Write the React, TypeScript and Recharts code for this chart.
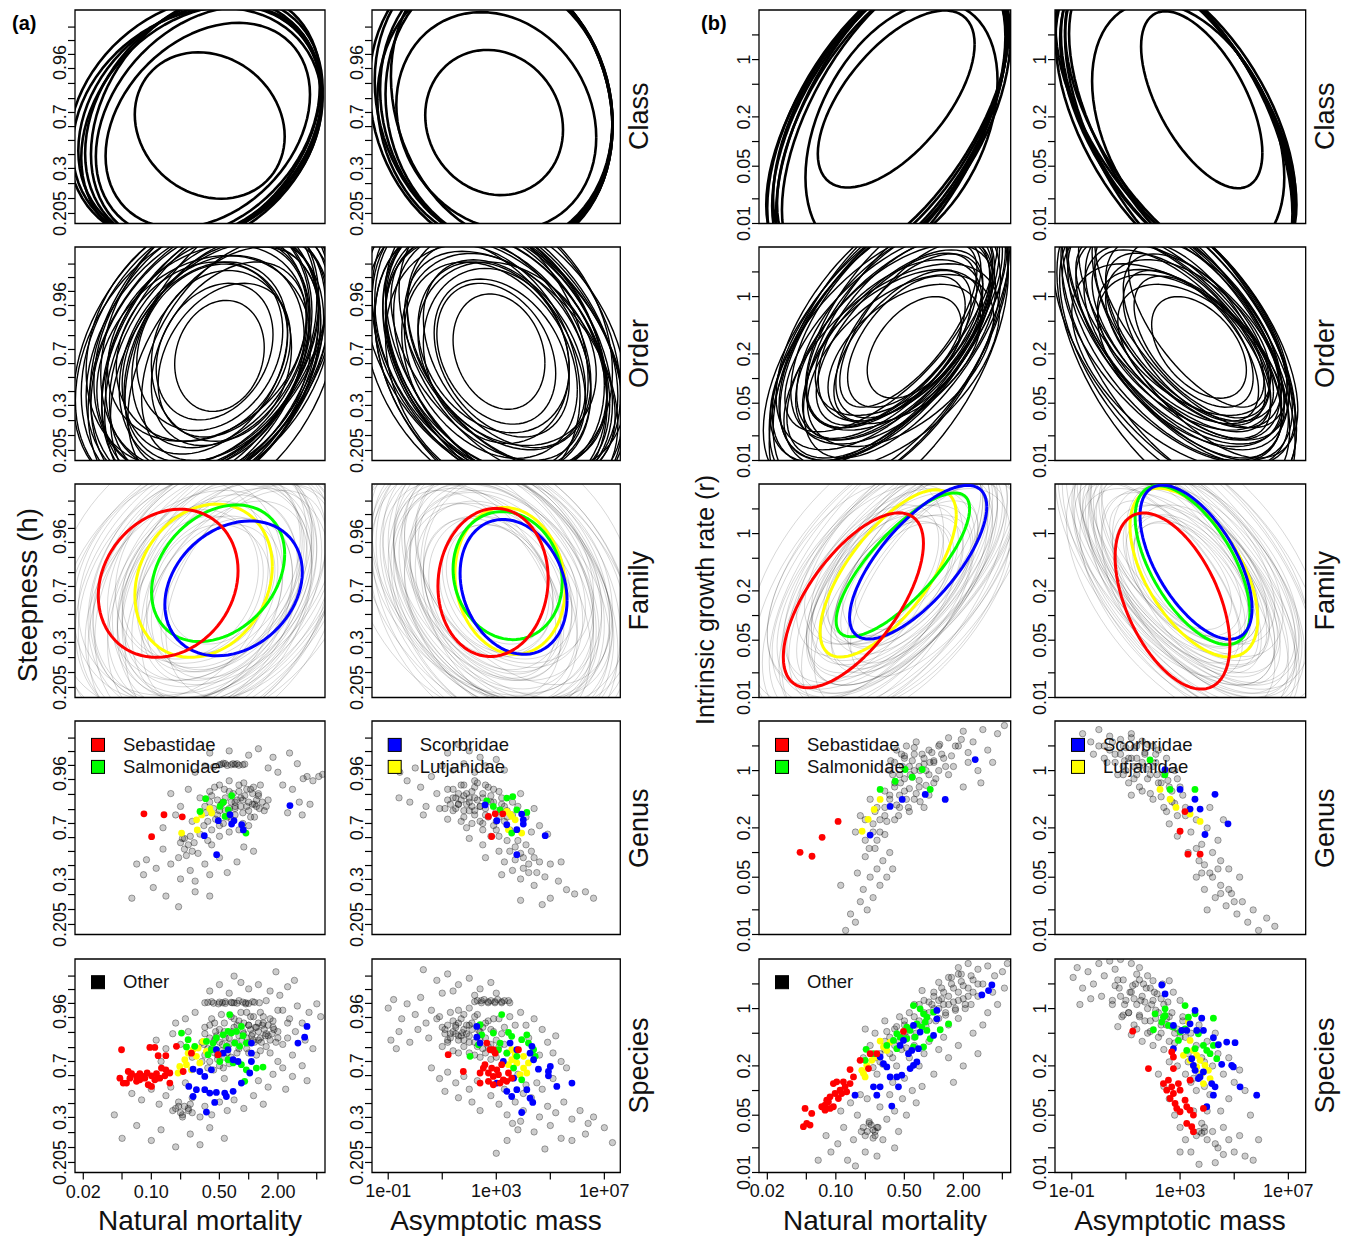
import React from "react";
import { ComposedChart, Line, Scatter, XAxis, YAxis, ReferenceArea } from "recharts";

// Ellipse = [centre x, centre y, x half-extent, y half-extent, correlation], axis units.
type Ell = [number, number, number, number, number];
type Pt = [number, number];

const FONT = "'Liberation Sans', Arial, Helvetica, sans-serif";

// ---------- axis ticks ----------
const M_TICKS = [0.02, 0.05, 0.1, 0.2, 0.5, 1, 2, 5];
const M_LABELS: Record<string, string> = { "0.02": "0.02", "0.1": "0.10", "0.5": "0.50", "2": "2.00" };
const W_TICKS = [0.1, 10, 1000, 100000, 10000000];
const W_LABELS: Record<string, string> = { "0.1": "1e-01", "1000": "1e+03", "10000000": "1e+07" };
const R_TICKS = [0.01, 0.02, 0.05, 0.1, 0.2, 0.5, 1, 2];
const R_LABELS: Record<string, string> = { "0.01": "0.01", "0.05": "0.05", "0.2": "0.2", "1": "1" };
// steepness is drawn on a transformed 0-10 axis
const H_TICK_POS = [0.47, 1.17, 1.87, 2.58, 3.23, 3.89, 4.54, 5.2, 5.85, 6.56, 7.26, 7.92, 8.57, 9.2];
const H_LABELS: [number, string][] = [[0.47, "0.205"], [2.58, "0.3"], [5.0, "0.7"], [7.54, "0.96"]];

const ROW_NAMES = ["Class", "Order", "Family", "Genus", "Species"];
const FAMILIES = ["Lutjanidae", "Salmonidae", "Scorbridae", "Sebastidae"];
const FAMILY_COLORS: Record<string, string> = {
  Sebastidae: "#ff0000",
  Salmonidae: "#00ff00",
  Scorbridae: "#0000ff",
  Lutjanidae: "#ffff00",
};

// ---------- Class ellipses ----------
const classMh: Ell[] = [
  [-0.5, 4.7, 1.25, 5.6, 0.23], [-0.46, 4.8, 1.22, 5.8, 0.26], [-0.53, 4.6, 1.28, 5.5, 0.2],
  [-0.44, 4.9, 1.18, 5.9, 0.28], [-0.48, 4.5, 1.24, 5.7, 0.25], [-0.42, 4.75, 1.15, 5.4, 0.3],
  [-0.55, 4.85, 1.3, 5.75, 0.22], [-0.42, 4.6, 1.05, 4.8, 0.3], [-0.4, 4.59, 0.77, 3.43, -0.15],
];
const classWh: Ell[] = [
  [3.0, 5.5, 4.3, 6.6, -0.12], [2.9, 5.6, 4.4, 6.8, -0.16], [3.1, 5.4, 4.2, 6.5, -0.1],
  [2.8, 5.5, 4.5, 6.9, -0.14], [3.2, 5.7, 4.1, 6.6, -0.18], [3.0, 4.8, 3.7, 5.1, -0.15],
  [2.95, 5.3, 4.35, 6.4, -0.08], [2.92, 4.73, 2.55, 3.4, -0.1],
];
const classMr: Ell[] = [
  [-0.45, -0.74, 1.2, 1.9, 0.55], [-0.42, -0.7, 1.18, 1.85, 0.57], [-0.48, -0.78, 1.22, 1.95, 0.53],
  [-0.4, -0.76, 1.15, 1.92, 0.56], [-0.47, -0.68, 1.24, 1.88, 0.58], [-0.44, -0.8, 1.17, 2.0, 0.54],
  [-0.43, -0.72, 1.21, 1.87, 0.52], [-0.33, -0.85, 0.98, 1.55, 0.38], [-0.384, -0.481, 0.8, 1.08, 0.62],
];
const classWr: Ell[] = [
  [2.9, -0.74, 4.3, 1.9, -0.55], [3.0, -0.7, 4.25, 1.85, -0.57], [2.8, -0.78, 4.4, 1.95, -0.53],
  [3.05, -0.76, 4.15, 1.92, -0.56], [2.85, -0.68, 4.45, 1.88, -0.58], [2.95, -0.8, 4.2, 2.0, -0.54],
  [2.92, -0.72, 4.35, 1.87, -0.52], [3.3, -0.85, 3.55, 1.55, -0.38], [3.8, -0.49, 2.24, 1.08, -0.6],
];

// ---------- Order ellipses ----------
const orderMh: Ell[] = [
  [-0.3, 4.9, 0.46, 2.6, 0.15], [-0.35, 5.1, 0.6, 3.2, 0.25], [-0.25, 4.7, 0.68, 3.6, 0.3],
  [-0.4, 5.3, 0.75, 3.9, 0.2], [-0.2, 5.0, 0.8, 4.3, 0.35], [-0.45, 4.8, 0.85, 4.5, 0.28],
  [-0.3, 5.4, 0.9, 4.8, 0.32], [-0.38, 4.6, 0.95, 5.0, 0.25], [-0.28, 5.2, 1.0, 5.3, 0.38],
  [-0.42, 5.0, 1.05, 5.5, 0.3], [-0.33, 4.7, 1.1, 5.8, 0.34], [-0.47, 5.3, 1.12, 6.0, 0.28],
  [-0.36, 5.0, 1.15, 6.2, 0.36], [-0.44, 4.6, 1.18, 6.4, 0.31], [-0.31, 5.1, 1.2, 6.5, 0.4],
  [-0.5, 4.9, 1.22, 6.6, 0.27], [-0.39, 5.4, 1.24, 6.8, 0.33], [-0.46, 4.4, 1.1, 5.2, 0.22],
  [-0.26, 4.4, 0.98, 5.6, 0.42], [-0.52, 5.6, 1.15, 5.9, 0.24], [-0.22, 5.6, 1.05, 6.1, 0.45],
  [-0.58, 4.7, 1.2, 6.3, 0.3], [-0.34, 4.2, 1.08, 6.0, 0.37], [-0.4, 5.8, 1.12, 6.2, 0.29],
  [-0.28, 4.9, 0.72, 4.0, 0.1], [-0.48, 5.1, 0.88, 4.2, 0.18], [-0.15, 5.2, 0.95, 5.2, 0.44],
  [-0.55, 5.2, 1.25, 6.7, 0.35], [-0.37, 4.5, 1.28, 6.9, 0.32], [-0.43, 5.5, 1.02, 4.6, 0.26],
  [-0.32, 4.8, 1.16, 6.6, 0.39], [-0.41, 4.9, 1.26, 6.3, 0.3],
];
const orderWh: Ell[] = [
  [3.1, 5.1, 1.7, 2.7, -0.2], [3.0, 5.0, 2.2, 3.3, -0.28], [3.2, 4.8, 2.5, 3.7, -0.32],
  [2.9, 5.3, 2.8, 4.0, -0.25], [3.3, 5.0, 3.0, 4.4, -0.38], [2.8, 4.7, 3.2, 4.6, -0.3],
  [3.1, 5.4, 3.4, 4.9, -0.35], [3.0, 4.6, 3.5, 5.1, -0.27], [3.4, 5.2, 3.7, 5.4, -0.4],
  [2.7, 5.0, 3.8, 5.6, -0.33], [3.2, 4.8, 4.0, 5.9, -0.36], [2.9, 5.3, 4.1, 6.1, -0.29],
  [3.1, 5.0, 4.2, 6.3, -0.37], [2.8, 4.6, 4.3, 6.5, -0.31], [3.3, 5.1, 4.4, 6.6, -0.42],
  [2.6, 4.9, 4.5, 6.7, -0.28], [3.0, 5.5, 4.6, 6.9, -0.34], [3.5, 4.5, 3.9, 5.3, -0.45],
  [2.5, 4.4, 3.6, 5.7, -0.24], [3.6, 5.6, 4.2, 6.0, -0.39], [2.4, 5.6, 4.0, 6.2, -0.3],
  [3.2, 4.3, 4.3, 6.1, -0.43], [2.9, 5.8, 4.4, 6.4, -0.26], [3.0, 4.9, 2.7, 4.1, -0.15],
  [3.4, 5.0, 3.3, 4.3, -0.22], [2.7, 5.2, 3.6, 5.2, -0.46], [3.1, 4.4, 4.6, 6.8, -0.33],
  [2.8, 5.4, 4.7, 6.6, -0.36], [3.3, 4.7, 4.5, 6.5, -0.4], [3.0, 5.2, 4.1, 5.8, -0.32],
];
const orderMr: Ell[] = [
  [-0.2, -0.62, 0.48, 0.62, 0.45], [-0.28, -0.55, 0.6, 0.8, 0.55], [-0.32, -0.6, 0.7, 0.92, 0.6],
  [-0.25, -0.48, 0.75, 1.0, 0.58], [-0.38, -0.52, 0.82, 1.05, 0.62], [-0.3, -0.4, 0.88, 1.12, 0.55],
  [-0.42, -0.58, 0.92, 1.15, 0.65], [-0.35, -0.35, 0.95, 1.25, 0.6], [-0.4, -0.45, 1.0, 1.3, 0.57],
  [-0.45, -0.62, 1.05, 1.35, 0.63], [-0.38, -0.3, 1.08, 1.45, 0.59], [-0.48, -0.5, 1.1, 1.5, 0.56],
  [-0.42, -0.4, 1.15, 1.6, 0.61], [-0.5, -0.7, 1.18, 1.7, 0.54], [-0.44, -0.55, 1.2, 1.85, 0.57],
  [-0.46, -0.75, 1.22, 1.9, 0.55], [-0.36, -0.5, 0.85, 0.95, 0.5], [-0.3, -0.7, 0.78, 0.85, 0.48],
  [-0.52, -0.45, 1.0, 1.2, 0.66], [-0.33, -0.22, 0.98, 1.38, 0.64], [-0.4, -0.65, 0.9, 0.98, 0.52],
  [-0.55, -0.6, 1.12, 1.42, 0.6], [-0.28, -0.42, 1.05, 1.55, 0.62], [-0.47, -0.32, 1.14, 1.55, 0.58],
  [-0.34, -0.78, 0.95, 1.05, 0.5], [-0.43, -0.85, 1.1, 1.25, 0.53], [-0.26, -0.35, 0.7, 1.0, 0.68],
  [-0.49, -0.62, 1.25, 1.75, 0.58], [-0.39, -0.58, 1.02, 1.22, 0.56], [-0.45, -0.4, 1.2, 1.65, 0.62],
];
const orderWr: Ell[] = [
  [3.7, -0.62, 1.75, 0.62, -0.45], [3.5, -0.55, 2.2, 0.8, -0.55], [3.4, -0.6, 2.5, 0.92, -0.6],
  [3.6, -0.48, 2.7, 1.0, -0.58], [3.2, -0.52, 2.95, 1.05, -0.62], [3.45, -0.4, 3.2, 1.12, -0.55],
  [3.05, -0.58, 3.3, 1.15, -0.65], [3.3, -0.35, 3.45, 1.25, -0.6], [3.1, -0.45, 3.6, 1.3, -0.57],
  [2.95, -0.62, 3.8, 1.35, -0.63], [3.15, -0.3, 3.9, 1.45, -0.59], [2.85, -0.5, 4.0, 1.5, -0.56],
  [3.0, -0.4, 4.15, 1.6, -0.61], [2.8, -0.7, 4.25, 1.7, -0.54], [2.95, -0.55, 4.35, 1.85, -0.57],
  [2.85, -0.75, 4.4, 1.9, -0.55], [3.3, -0.5, 3.05, 0.95, -0.5], [3.5, -0.7, 2.8, 0.85, -0.48],
  [2.75, -0.45, 3.6, 1.2, -0.66], [3.4, -0.22, 3.55, 1.38, -0.64], [3.2, -0.65, 3.25, 0.98, -0.52],
  [2.7, -0.6, 4.05, 1.42, -0.6], [3.55, -0.42, 3.8, 1.55, -0.62], [2.9, -0.32, 4.1, 1.55, -0.58],
  [3.35, -0.78, 3.4, 1.05, -0.5], [3.0, -0.85, 4.0, 1.25, -0.53], [3.6, -0.35, 2.5, 1.0, -0.68],
  [2.8, -0.62, 4.5, 1.75, -0.58], [3.15, -0.58, 3.7, 1.22, -0.56], [2.95, -0.4, 4.3, 1.65, -0.62],
];

// ---------- Family ellipses: all families (faint) ----------
const familyMh: Ell[] = [
  [-0.4, 5.0, 0.9, 4.5, 0.3], [-0.3, 5.5, 1.1, 5.5, 0.35], [-0.55, 4.6, 1.2, 6.0, 0.25],
  [-0.2, 5.2, 0.8, 4.0, 0.4], [-0.45, 5.8, 1.0, 5.0, 0.3], [-0.35, 4.4, 1.3, 6.5, 0.32],
  [-0.6, 5.3, 0.7, 3.5, 0.2], [-0.1, 4.8, 1.0, 5.2, 0.45], [-0.5, 4.9, 1.4, 6.8, 0.28],
  [-0.25, 6.0, 0.9, 4.8, 0.38], [-0.38, 5.1, 0.6, 3.0, 0.15], [-0.15, 5.6, 1.2, 6.2, 0.42],
  [-0.65, 4.8, 1.0, 5.5, 0.22], [-0.3, 4.6, 0.75, 3.8, 0.33], [-0.48, 5.5, 1.15, 5.8, 0.3],
  [-0.05, 5.3, 0.85, 4.4, 0.48], [-0.7, 5.8, 1.3, 6.4, 0.26], [-0.22, 4.2, 1.05, 5.6, 0.36],
  [-0.42, 6.2, 0.95, 4.6, 0.27], [-0.33, 5.0, 1.25, 6.6, 0.34], [0.05, 5.0, 0.9, 5.0, 0.4],
  [-0.8, 5.1, 1.0, 5.2, 0.2], [-0.28, 5.3, 0.55, 2.8, 0.25], [-0.58, 4.3, 1.1, 5.4, 0.3],
  [-0.35, 5.2, 1.0, 5.0, 0.32], [-0.45, 5.4, 1.15, 5.6, 0.3], [-0.25, 4.9, 0.95, 5.2, 0.38],
  [-0.5, 5.0, 0.8, 4.2, 0.26], [-0.3, 5.6, 1.3, 6.0, 0.36], [-0.4, 4.7, 1.05, 5.3, 0.3],
  [-0.2, 5.4, 1.1, 5.4, 0.4], [-0.55, 5.7, 1.2, 5.6, 0.28], [-0.35, 4.9, 0.7, 3.6, 0.22],
  [-0.15, 5.0, 1.3, 6.4, 0.4], [-0.6, 5.0, 1.35, 6.2, 0.3], [-0.28, 5.7, 0.85, 4.3, 0.35],
  [-0.45, 4.5, 0.9, 4.6, 0.26], [-0.1, 5.6, 1.0, 5.0, 0.44], [-0.38, 5.3, 1.4, 6.6, 0.33],
  [-0.5, 5.2, 0.65, 3.3, 0.2],
];
const familyWh: Ell[] = [
  [3.0, 5.0, 3.2, 4.6, -0.3], [2.8, 5.4, 3.8, 5.6, -0.35], [3.3, 4.7, 4.3, 6.2, -0.28],
  [2.6, 5.1, 2.8, 4.0, -0.4], [3.1, 5.8, 3.5, 5.0, -0.32], [2.9, 4.4, 4.6, 6.6, -0.33],
  [3.5, 5.3, 2.5, 3.5, -0.22], [2.4, 4.9, 3.6, 5.2, -0.42], [3.2, 4.9, 4.8, 6.8, -0.3],
  [2.7, 6.0, 3.1, 4.8, -0.38], [3.0, 5.1, 2.1, 3.0, -0.18], [2.5, 5.6, 4.2, 6.2, -0.4],
  [3.6, 4.8, 3.4, 5.5, -0.25], [2.9, 4.6, 2.6, 3.8, -0.35], [3.2, 5.5, 4.0, 5.8, -0.31],
  [2.2, 5.3, 3.0, 4.4, -0.46], [3.7, 5.8, 4.5, 6.4, -0.27], [2.8, 4.2, 3.7, 5.6, -0.37],
  [3.3, 6.2, 3.3, 4.6, -0.29], [2.95, 5.0, 4.4, 6.6, -0.34], [2.3, 5.0, 3.1, 5.0, -0.41],
  [3.8, 5.1, 3.5, 5.2, -0.21], [3.05, 5.3, 1.9, 2.8, -0.26], [3.4, 4.3, 3.8, 5.4, -0.32],
  [3.0, 5.2, 3.6, 5.0, -0.32], [2.8, 5.4, 4.1, 5.6, -0.3], [3.2, 4.9, 3.4, 5.2, -0.38],
  [2.9, 5.0, 2.9, 4.2, -0.26], [3.1, 5.6, 4.7, 6.0, -0.36], [3.0, 4.7, 3.8, 5.3, -0.3],
  [3.4, 5.4, 3.9, 5.4, -0.4], [2.6, 5.7, 4.3, 5.6, -0.28], [3.0, 4.9, 2.5, 3.6, -0.22],
  [3.5, 5.0, 4.7, 6.4, -0.4], [2.5, 5.0, 4.8, 6.2, -0.3], [3.2, 5.7, 3.1, 4.3, -0.35],
  [2.8, 4.5, 3.2, 4.6, -0.26], [3.6, 5.6, 3.6, 5.0, -0.44], [3.0, 5.3, 5.0, 6.6, -0.33],
  [2.7, 5.2, 2.4, 3.3, -0.2],
];
const familyMr: Ell[] = [
  [-0.4, -0.55, 0.85, 1.05, 0.6], [-0.3, -0.45, 1.0, 1.3, 0.62], [-0.55, -0.65, 1.1, 1.45, 0.55],
  [-0.25, -0.5, 0.7, 0.9, 0.65], [-0.45, -0.3, 0.95, 1.2, 0.58], [-0.35, -0.75, 1.2, 1.6, 0.57],
  [-0.6, -0.5, 0.65, 0.85, 0.5], [-0.15, -0.4, 0.9, 1.25, 0.68], [-0.5, -0.6, 1.25, 1.75, 0.56],
  [-0.28, -0.25, 0.85, 1.1, 0.64], [-0.38, -0.55, 0.55, 0.7, 0.45], [-0.18, -0.35, 1.1, 1.5, 0.66],
  [-0.65, -0.7, 0.95, 1.3, 0.52], [-0.32, -0.62, 0.7, 0.85, 0.55], [-0.48, -0.42, 1.05, 1.4, 0.6],
  [-0.08, -0.48, 0.8, 1.1, 0.7], [-0.7, -0.45, 1.2, 1.65, 0.54], [-0.22, -0.8, 1.0, 1.35, 0.59],
  [-0.42, -0.2, 0.9, 1.15, 0.61], [-0.33, -0.58, 1.15, 1.55, 0.6], [0.0, -0.55, 0.85, 1.2, 0.66],
  [-0.8, -0.6, 0.9, 1.25, 0.5], [-0.3, -0.52, 0.5, 0.65, 0.5], [-0.58, -0.85, 1.0, 1.4, 0.56],
  [-0.35, -0.5, 0.95, 1.2, 0.62], [-0.45, -0.55, 1.1, 1.45, 0.58], [-0.25, -0.42, 0.9, 1.2, 0.66],
  [-0.5, -0.6, 0.75, 0.95, 0.56], [-0.3, -0.35, 1.2, 1.6, 0.63], [-0.4, -0.65, 1.0, 1.3, 0.6],
  [-0.2, -0.45, 1.05, 1.4, 0.68], [-0.55, -0.4, 1.15, 1.5, 0.56], [-0.35, -0.58, 0.65, 0.8, 0.52],
  [-0.15, -0.5, 1.2, 1.7, 0.66], [-0.6, -0.55, 1.25, 1.7, 0.58], [-0.28, -0.3, 0.8, 1.05, 0.62],
  [-0.45, -0.75, 0.85, 1.1, 0.55], [-0.1, -0.35, 0.95, 1.35, 0.7], [-0.38, -0.48, 1.3, 1.8, 0.6],
  [-0.5, -0.52, 0.6, 0.75, 0.5],
];
const familyWr: Ell[] = [
  [3.2, -0.55, 3.1, 1.05, -0.6], [3.0, -0.45, 3.6, 1.3, -0.62], [3.6, -0.65, 4.0, 1.45, -0.55],
  [2.9, -0.5, 2.5, 0.9, -0.65], [3.4, -0.3, 3.4, 1.2, -0.58], [3.1, -0.75, 4.3, 1.6, -0.57],
  [3.8, -0.5, 2.4, 0.85, -0.5], [2.6, -0.4, 3.3, 1.25, -0.68], [3.5, -0.6, 4.5, 1.75, -0.56],
  [2.8, -0.25, 3.1, 1.1, -0.64], [3.25, -0.55, 2.0, 0.7, -0.45], [2.5, -0.35, 4.0, 1.5, -0.66],
  [3.9, -0.7, 3.4, 1.3, -0.52], [3.1, -0.62, 2.5, 0.85, -0.55], [3.45, -0.42, 3.8, 1.4, -0.6],
  [2.3, -0.48, 2.9, 1.1, -0.7], [4.0, -0.45, 4.3, 1.65, -0.54], [2.9, -0.8, 3.6, 1.35, -0.59],
  [3.3, -0.2, 3.2, 1.15, -0.61], [3.15, -0.58, 4.1, 1.55, -0.6], [2.2, -0.55, 3.1, 1.2, -0.66],
  [4.2, -0.6, 3.2, 1.25, -0.5], [3.1, -0.52, 1.8, 0.65, -0.5], [3.7, -0.85, 3.6, 1.4, -0.56],
  [3.3, -0.5, 3.4, 1.2, -0.62], [3.5, -0.55, 4.0, 1.45, -0.58], [3.0, -0.42, 3.2, 1.2, -0.66],
  [3.6, -0.6, 2.7, 0.95, -0.56], [3.1, -0.35, 4.3, 1.6, -0.63], [3.4, -0.65, 3.6, 1.3, -0.6],
  [2.9, -0.45, 3.8, 1.4, -0.68], [3.7, -0.4, 4.1, 1.5, -0.56], [3.3, -0.58, 2.3, 0.8, -0.52],
  [2.7, -0.5, 4.3, 1.7, -0.66], [3.8, -0.55, 4.5, 1.7, -0.58], [3.0, -0.3, 2.9, 1.05, -0.62],
  [3.5, -0.75, 3.0, 1.1, -0.55], [2.6, -0.35, 3.4, 1.35, -0.7], [3.35, -0.48, 4.7, 1.8, -0.6],
  [3.4, -0.52, 2.1, 0.75, -0.5],
];

// ---------- Family ellipses: highlighted families ----------
const highlightMh: Record<string, Ell> = {
  Sebastidae: [-0.827, 5.35, 0.718, 3.47, 0.17],
  Salmonidae: [-0.314, 5.82, 0.684, 3.2, 0.28],
  Scorbridae: [-0.155, 5.11, 0.706, 3.16, 0.24],
  Lutjanidae: [-0.463, 5.47, 0.706, 3.59, 0.19],
};
const highlightWh: Record<string, Ell> = {
  Sebastidae: [2.88, 5.39, 2.04, 3.47, 0.05],
  Salmonidae: [3.42, 5.71, 2.02, 3.0, -0.1],
  Scorbridae: [3.64, 5.18, 1.98, 3.16, -0.2],
  Lutjanidae: [3.51, 5.46, 2.04, 3.44, -0.1],
};
const highlightMr: Record<string, Ell> = {
  Sebastidae: [-0.821, -0.814, 0.715, 1.067, 0.65],
  Salmonidae: [-0.316, -0.381, 0.681, 0.877, 0.78],
  Scorbridae: [-0.16, -0.349, 0.7, 0.938, 0.72],
  Lutjanidae: [-0.466, -0.486, 0.695, 1.02, 0.7],
};
const highlightWr: Record<string, Ell> = {
  Sebastidae: [2.72, -0.823, 2.12, 1.075, -0.5],
  Salmonidae: [3.46, -0.385, 2.12, 0.97, -0.6],
  Scorbridae: [3.59, -0.349, 2.07, 0.94, -0.6],
  Lutjanidae: [3.51, -0.476, 2.36, 1.03, -0.55],
};

// ---------- Genus predictions (points) ----------
const genusMh: Record<string, Pt[]> = {
  Other: [
    [-0.45, 6.0], [-0.38, 6.5], [-0.32, 5.6], [-0.26, 6.2], [-0.2, 6.7], [-0.14, 5.9], [-0.08, 6.4], [-0.02, 6.8],
    [0.04, 6.1], [0.1, 6.5], [0.16, 5.8], [-0.42, 5.3], [-0.3, 5.1], [-0.18, 5.4], [-0.06, 5.2], [0.06, 5.5],
    [-0.35, 6.9], [-0.1, 7.0], [0.12, 7.0], [-0.24, 5.8], [0.0, 5.8], [0.2, 6.3], [-0.5, 6.4], [-0.14, 6.2], [0.08, 6.0],
    [-0.3, 7.95], [-0.24, 8.0], [-0.18, 7.95], [-0.12, 8.0], [-0.06, 7.95], [-0.36, 7.85],
    [-0.55, 7.6], [-0.45, 7.9], [-0.4, 8.5], [-0.2, 8.6], [0.0, 8.4], [0.1, 8.7], [0.25, 8.3], [0.3, 7.6], [0.2, 7.8],
    [0.42, 8.5], [0.5, 8.0], [0.56, 7.3],
    [0.35, 7.0], [0.45, 6.8], [0.52, 6.2], [0.6, 7.4], [0.66, 7.2], [0.72, 7.4], [0.76, 7.5], [0.4, 5.7], [0.55, 5.6], [0.63, 6.1],
    [-0.8, 6.6], [-0.7, 6.0], [-0.62, 6.8], [-0.58, 5.3], [-0.75, 5.6], [-0.88, 5.0],
    [-1.05, 3.5], [-0.95, 3.1], [-0.88, 4.0], [-0.8, 3.3], [-0.72, 3.6], [-0.66, 4.5], [-0.6, 3.0], [-0.52, 3.8],
    [-0.45, 3.3], [-0.38, 4.2], [-0.3, 3.6], [-0.22, 2.9], [-0.12, 3.4], [-0.05, 4.1], [0.05, 3.9], [-0.7, 2.6],
    [-0.55, 2.5], [-0.4, 2.8],
    [-1.2, 1.7], [-1.08, 2.8], [-0.98, 2.2], [-0.85, 1.8], [-0.72, 1.3], [-0.55, 2.0], [-0.4, 1.8], [-1.15, 3.3],
    [-0.16, 6.6], [-0.12, 6.3], [-0.08, 6.0], [-0.04, 6.5], [0.0, 6.2], [0.04, 6.6], [0.08, 6.3], [0.11, 5.9],
    [-0.14, 6.0], [-0.1, 6.7], [-0.02, 6.0], [0.02, 6.8], [0.06, 6.1], [-0.06, 6.3], [0.1, 6.6], [-0.18, 6.2],
    [-0.2, 5.9], [-0.24, 6.4], [-0.28, 6.1], [-0.32, 6.3], [-0.36, 5.9], [-0.4, 6.2], [-0.44, 5.7], [-0.3, 5.8],
    [-0.22, 5.5], [-0.14, 5.6], [-0.06, 5.7], [0.02, 5.5], [0.14, 6.2], [0.18, 6.0], [-0.34, 5.4], [-0.26, 5.2],
    [-0.46, 5.1], [-0.38, 4.9], [-0.3, 4.6], [-0.2, 4.8], [-0.1, 4.9], [0.0, 5.1], [-0.5, 4.7], [-0.42, 4.4],
    [-0.7, 4.3], [-0.66, 4.0], [-0.62, 4.2], [-0.58, 3.9], [-0.68, 4.5], [-0.6, 4.6], [-0.64, 3.7], [-0.56, 4.3],
    [-0.28, 7.97], [-0.22, 7.92], [-0.16, 8.0], [-0.1, 7.93], [-0.04, 7.98], [-0.26, 8.02], [-0.14, 7.96],
    [-0.3, 7.0], [-0.2, 7.2], [-0.05, 7.1], [0.05, 6.9], [-0.4, 6.7], [-0.25, 6.8],
  ],
  Sebastidae: [[-1.076, 5.65], [-0.87, 5.61], [-0.682, 5.51], [-0.997, 4.58]],
  Salmonidae: [[-0.442, 6.36], [-0.5, 5.76], [-0.295, 6.0], [-0.26, 6.2], [-0.175, 6.5], [-0.21, 5.84], [-0.243, 5.53], [-0.028, 4.75]],
  Lutjanidae: [[-0.689, 4.75], [-0.535, 5.37], [-0.483, 5.6], [-0.528, 4.9], [-0.38, 5.69], [-0.4, 5.89]],
  Scorbridae: [[-0.456, 4.63], [-0.329, 3.74], [-0.312, 5.33], [-0.192, 5.61], [-0.151, 5.33], [-0.175, 5.17], [-0.072, 5.14], [-0.055, 4.9], [0.424, 6.04]],
};
const genusWh: Record<string, Pt[]> = {
  Other: [
    [-0.57, 7.6], [-0.3, 7.2], [0.0, 7.8], [0.2, 6.9], [-0.2, 6.2], [0.4, 6.0], [0.6, 7.4], [0.8, 6.6], [0.3, 5.6],
    [-0.6, 6.4], [1.0, 7.9], [0.9, 5.9],
    [1.2, 8.5], [1.6, 8.9], [2.0, 8.6], [2.4, 8.3], [1.8, 8.0], [2.6, 7.9], [3.0, 8.2], [3.3, 7.7], [1.4, 7.7], [2.2, 7.6],
    [1.2, 6.8], [1.5, 6.4], [1.7, 7.0], [1.9, 6.1], [2.1, 6.7], [2.3, 7.1], [2.5, 6.4], [2.7, 6.9], [2.9, 6.2],
    [3.1, 6.7], [3.3, 6.0], [1.4, 5.8], [1.8, 5.5], [2.2, 5.8], [2.6, 5.6], [3.0, 5.3], [3.4, 5.5], [2.0, 6.4],
    [2.4, 6.0], [2.8, 6.5], [1.6, 6.1], [2.2, 6.9], [3.2, 6.4], [3.6, 6.2], [2.5, 5.2], [1.9, 5.0], [1.2, 5.4],
    [3.8, 6.0], [4.1, 5.5], [4.4, 5.9], [4.6, 5.1], [3.9, 6.6], [4.3, 4.8], [4.9, 4.7],
    [2.0, 4.5], [2.5, 4.2], [2.8, 4.6], [3.1, 3.9], [3.4, 4.4], [3.7, 4.1], [4.0, 3.6], [3.3, 3.4], [3.6, 3.0],
    [4.2, 3.3], [4.5, 2.9], [3.9, 2.6], [4.4, 2.3], [4.8, 2.7], [5.0, 3.3], [5.3, 2.5], [5.6, 2.1], [5.9, 1.9],
    [6.3, 2.0], [6.6, 1.7], [5.0, 1.7], [3.9, 1.6], [4.7, 1.4], [3.2, 2.8], [2.6, 3.6], [5.4, 3.4], [3.0, 4.9],
    [1.4, 6.4], [1.6, 6.1], [1.8, 6.5], [2.0, 6.2], [2.2, 6.4], [2.4, 6.0], [1.5, 5.9], [1.7, 6.3], [1.9, 6.6],
    [2.1, 6.0], [2.3, 6.3], [2.5, 6.6], [1.3, 6.1], [1.6, 6.6], [2.0, 5.8], [2.2, 5.6], [2.6, 5.9], [2.8, 6.2],
    [3.0, 5.8], [3.1, 5.5], [2.7, 5.5], [2.4, 5.3], [1.8, 5.8], [1.2, 6.3], [1.1, 5.9], [2.9, 6.8], [2.6, 7.0],
    [2.2, 7.2], [1.8, 7.0], [1.4, 6.8], [3.2, 6.1], [3.4, 5.8], [2.9, 5.1], [2.5, 4.9], [2.1, 5.2], [1.7, 5.3],
    [3.3, 5.3], [3.6, 5.6], [3.5, 4.9], [3.1, 4.6],
    [3.8, 4.4], [3.9, 3.8], [4.1, 4.2], [4.3, 3.9], [3.7, 3.5], [4.0, 3.1], [4.4, 3.6], [4.2, 2.9], [3.5, 3.9], [4.6, 3.4],
  ],
  Sebastidae: [[2.71, 5.53], [2.96, 5.65], [3.24, 5.65], [2.83, 4.59]],
  Salmonidae: [[2.65, 6.26], [2.89, 6.0], [3.39, 6.39], [3.61, 6.46], [3.14, 5.84], [3.76, 5.84], [4.13, 5.72], [3.57, 4.75]],
  Lutjanidae: [[3.39, 5.76], [3.57, 5.53], [3.7, 5.37], [3.51, 5.64], [3.94, 4.75], [3.45, 4.91]],
  Scorbridae: [[2.585, 6.07], [3.02, 5.33], [3.39, 5.14], [3.76, 4.91], [3.94, 5.64], [4.0, 5.37], [4.0, 5.17], [4.81, 4.63], [3.76, 3.74]],
};
const genusMr: Record<string, Pt[]> = {
  Other: [
    [-0.9, -1.95], [-0.85, -1.75], [-0.8, -1.85], [-0.75, -1.6], [-0.72, -1.45], [-0.68, -1.7], [-0.65, -1.3],
    [-0.62, -1.55], [-0.58, -1.2], [-0.55, -1.4], [-0.52, -1.1], [-0.48, -1.3], [-0.45, -1.0], [-0.78, -1.25],
    [-0.7, -1.05], [-0.95, -1.4], [-0.6, -0.95], [-0.42, -1.2],
    [-0.8, -0.75], [-0.75, -0.55], [-0.7, -0.85], [-0.62, -0.65], [-0.58, -0.45], [-0.55, -0.75], [-0.5, -0.55],
    [-0.45, -0.35], [-0.4, -0.6], [-0.35, -0.45], [-0.3, -0.25], [-0.25, -0.5], [-0.2, -0.35], [-0.15, -0.2],
    [-0.1, -0.45], [-0.05, -0.3], [0.0, -0.15], [-0.5, -0.25], [-0.4, -0.15], [-0.65, -0.35],
    [-0.45, 0.0], [-0.4, 0.1], [-0.35, -0.05], [-0.3, 0.15], [-0.25, 0.05], [-0.2, 0.2], [-0.15, 0.05], [-0.1, 0.15],
    [-0.05, 0.25], [0.0, 0.1], [0.05, 0.3], [0.1, 0.15], [-0.38, 0.25], [-0.28, 0.3], [-0.18, 0.35], [-0.08, 0.0],
    [-0.33, 0.2], [-0.22, -0.08],
    [0.15, 0.4], [0.25, 0.3], [0.3, 0.48], [0.4, 0.35], [0.5, 0.5], [0.55, 0.25], [0.65, 0.45], [0.72, 0.55],
    [0.2, 0.05], [0.35, 0.1], [0.45, 0.0], [0.6, 0.1], [0.3, -0.2], [0.48, -0.15],
    [-0.45, -0.3], [-0.4, -0.2], [-0.35, -0.3], [-0.3, -0.1], [-0.25, -0.22], [-0.2, 0.0], [-0.15, -0.12],
    [-0.1, 0.08], [-0.05, -0.05], [0.0, 0.12], [0.05, 0.0], [-0.42, -0.05], [-0.32, 0.05], [-0.22, 0.12],
    [-0.12, 0.2], [-0.02, 0.22], [0.08, 0.2], [-0.38, -0.42], [-0.28, -0.35], [-0.18, -0.28], [-0.08, -0.18],
    [0.02, -0.1], [-0.5, -0.45], [-0.55, -0.6], [-0.6, -0.5], [-0.48, -0.62], [-0.36, -0.55], [-0.26, -0.45],
    [-0.14, -0.38], [0.12, 0.05], [0.18, 0.18], [0.22, 0.3], [-0.3, 0.18], [-0.2, 0.28], [-0.44, 0.12],
    [-0.34, -0.15], [-0.24, -0.05], [-0.14, 0.0], [-0.04, 0.1], [0.06, 0.32], [-0.62, -0.75], [-0.7, -0.6],
    [-0.58, -0.85], [-0.5, -0.78], [-0.66, -0.95], [0.28, 0.38], [0.35, 0.22], [0.15, -0.05],
  ],
  Sebastidae: [[-1.365, -0.997], [-1.243, -1.045], [-1.14, -0.814], [-0.977, -0.62]],
  Salmonidae: [[-0.548, -0.23], [-0.395, -0.13], [-0.293, 0.013], [-0.221, -0.08], [-0.119, 0.013], [-0.037, -0.23]],
  Lutjanidae: [[-0.732, -0.74], [-0.67, -0.595], [-0.609, -0.474], [-0.548, -0.352]],
  Scorbridae: [[-0.65, -0.787], [-0.446, -0.437], [-0.323, -0.352], [-0.088, -0.291], [0.116, -0.352], [0.422, 0.134]],
};
const genusWr: Record<string, Pt[]> = {
  Other: [
    [-0.6, 0.45], [-0.3, 0.35], [0.0, 0.5], [0.2, 0.3], [0.4, 0.42], [0.6, 0.2], [0.8, 0.38], [1.0, 0.28], [1.2, 0.45],
    [1.4, 0.15], [0.3, 0.1], [0.9, 0.05],
    [0.9, -0.05], [1.1, 0.15], [1.3, -0.1], [1.5, 0.05], [1.7, 0.2], [1.9, -0.05], [2.1, 0.1], [2.3, -0.15],
    [2.5, 0.0], [2.7, -0.25], [2.9, -0.1], [1.2, -0.3], [1.6, -0.25], [2.0, -0.35], [2.4, -0.45], [2.8, -0.4],
    [3.1, -0.3], [1.8, 0.32], [2.2, 0.25], [1.4, 0.3],
    [2.6, -0.65], [2.9, -0.8], [3.2, -0.55], [3.4, -0.75], [3.6, -0.6], [3.8, -0.9], [4.0, -0.7], [4.2, -1.0],
    [4.4, -0.85], [4.6, -0.6], [3.3, -1.0], [3.7, -1.1], [4.1, -0.45], [4.5, -1.1],
    [3.6, -1.3], [3.9, -1.45], [4.1, -1.25], [4.3, -1.55], [4.5, -1.4], [4.7, -1.65], [4.9, -1.5], [5.1, -1.75],
    [5.3, -1.6], [5.5, -1.85], [5.7, -1.7], [5.9, -1.95], [6.2, -1.8], [4.8, -1.2], [5.2, -1.3], [4.0, -1.7], [6.5, -1.9],
    [0.4, 0.25], [0.6, 0.1], [0.8, 0.2], [1.0, 0.0], [1.2, 0.15], [1.4, -0.05], [1.6, 0.1], [1.8, -0.1], [2.0, 0.05],
    [2.2, -0.15], [2.4, -0.05], [2.6, -0.2], [0.5, 0.35], [0.9, 0.3], [1.3, 0.28], [1.7, 0.22], [2.1, 0.2],
    [0.7, -0.05], [1.1, -0.15], [1.5, -0.2], [1.9, -0.28], [2.3, -0.32], [2.7, -0.38], [3.0, -0.2], [2.8, 0.0],
    [0.2, 0.15], [0.0, 0.3], [-0.2, 0.2], [1.2, 0.4], [1.6, 0.36], [2.0, 0.3], [2.5, 0.15], [3.2, -0.45],
    [2.9, -0.55], [2.5, -0.5], [1.3, 0.05], [0.95, 0.12], [1.75, 0.02], [2.15, -0.05], [2.55, -0.12],
    [3.6, -0.95], [3.9, -1.15], [4.2, -1.3], [4.5, -1.5], [4.8, -1.45], [5.0, -1.6], [4.4, -1.2], [3.8, -1.25],
  ],
  Sebastidae: [[3.0, -0.74], [3.29, -1.02], [3.74, -1.02], [3.18, -0.5]],
  Salmonidae: [[1.89, 0.13], [2.44, -0.05], [2.63, -0.23], [3.55, -0.23]],
  Lutjanidae: [[2.26, -0.23], [2.63, -0.35], [2.85, -0.45], [3.74, -0.62], [3.37, -0.53]],
  Scorbridae: [[2.44, 0.01], [3.0, -0.23], [3.55, -0.35], [3.74, -0.47], [3.92, -0.78], [4.77, -0.65], [4.29, -0.29], [3.37, -0.47]],
};

// ---------- Species predictions (points) ----------
const speciesMh: Record<string, Pt[]> = {
  Other: [
    [-0.45, 6.5], [-0.4, 6.9], [-0.35, 6.2], [-0.3, 6.7], [-0.25, 7.0], [-0.2, 6.3], [-0.15, 6.8], [-0.1, 7.1],
    [-0.05, 6.5], [0.0, 6.9], [0.05, 6.2], [0.1, 6.6], [0.15, 7.0], [0.2, 6.4], [0.25, 6.8], [-0.42, 5.8],
    [-0.32, 5.5], [-0.22, 5.9], [-0.12, 5.6], [-0.02, 5.8], [0.08, 5.5], [0.18, 5.9], [0.28, 6.1], [-0.38, 7.2],
    [-0.28, 7.4], [-0.18, 7.3], [-0.08, 7.5], [0.02, 7.3], [0.12, 7.5], [0.22, 7.2], [-0.48, 6.1], [-0.27, 6.0],
    [-0.07, 6.2], [0.13, 6.1], [0.03, 6.4], [-0.17, 6.6], [0.07, 6.8], [0.17, 6.4], [-0.33, 6.4], [0.3, 6.6],
    [-0.45, 7.95], [-0.38, 8.0], [-0.31, 7.9], [-0.24, 8.0], [-0.17, 7.95], [-0.1, 8.05], [-0.03, 7.9], [0.04, 8.0],
    [0.11, 7.95], [0.18, 8.05],
    [-0.4, 8.5], [-0.3, 8.8], [-0.2, 8.4], [-0.08, 8.9], [0.0, 8.6], [0.1, 8.8], [0.22, 8.5], [0.32, 8.3],
    [0.4, 8.7], [0.47, 9.0], [-0.15, 9.2], [0.28, 9.4],
    [0.35, 7.6], [0.42, 7.2], [0.5, 7.8], [0.55, 7.0], [0.62, 7.5], [0.7, 7.9], [0.74, 7.3], [0.4, 6.3],
    [0.48, 6.6], [0.58, 6.2], [0.66, 5.8], [0.45, 5.5],
    [-0.95, 6.2], [-0.85, 5.8], [-0.78, 6.5], [-0.7, 6.0], [-0.62, 6.6], [-0.58, 5.4], [-0.9, 5.2], [-0.65, 7.2],
    [-0.55, 7.5], [-0.75, 7.0],
    [-1.2, 3.7], [-1.1, 3.4], [-1.0, 3.9], [-0.92, 3.2], [-0.85, 3.6], [-0.78, 2.9], [-0.72, 3.1], [-0.68, 2.7],
    [-0.62, 3.0], [-0.58, 3.5], [-0.5, 2.6], [-0.45, 3.1], [-0.38, 2.7], [-0.3, 3.3], [-0.22, 2.9], [-0.15, 3.4],
    [-0.05, 3.0], [0.05, 3.6], [0.15, 3.2], [-0.8, 4.0], [-0.65, 4.2], [-0.25, 4.4], [0.1, 4.3], [0.25, 4.6],
    [0.35, 4.9], [-0.95, 4.4],
    [-1.3, 1.6], [-1.15, 2.2], [-1.0, 1.5], [-0.9, 2.0], [-0.75, 1.2], [-0.6, 1.8], [-0.5, 1.3], [-0.4, 2.1],
    [-0.25, 1.6], [-1.38, 2.7],
    [0.3, 5.2], [0.45, 4.5], [0.2, 4.0], [0.55, 5.0], [0.38, 3.9], [0.6, 4.3],
    [0.0, 6.9], [0.04, 6.5], [0.08, 6.8], [0.12, 6.3], [0.16, 6.7], [0.2, 6.9], [0.24, 6.5], [-0.02, 6.3],
    [0.06, 6.1], [0.14, 6.9], [0.22, 6.2], [0.02, 6.7], [0.1, 7.0], [0.18, 6.5], [-0.06, 6.6], [0.26, 6.7],
    [-0.1, 6.4], [-0.14, 6.1], [0.0, 6.1], [0.1, 6.2], [-0.45, 5.5], [-0.4, 5.2], [-0.35, 5.6], [-0.3, 5.0],
    [-0.25, 5.4], [-0.2, 5.1], [-0.42, 4.9], [-0.32, 5.3], [-0.22, 5.6], [-0.38, 5.8], [-0.28, 5.7], [-0.18, 5.4],
    [-0.48, 5.2], [-0.36, 4.8], [-0.26, 4.9],
    [-0.42, 7.97], [-0.36, 7.93], [-0.3, 7.98], [-0.24, 7.92], [-0.18, 7.97], [-0.12, 7.93], [-0.06, 7.98], [0.0, 7.92],
    [0.06, 7.97], [-0.27, 7.95], [-0.15, 7.95], [-0.03, 7.95],
    [-0.45, 6.8], [-0.35, 7.0], [-0.25, 6.6], [-0.15, 7.2], [-0.05, 7.0], [0.05, 7.3], [0.15, 7.3], [0.25, 7.1],
    [0.3, 6.3], [0.35, 6.0], [-0.4, 6.3], [-0.3, 6.1], [-0.2, 6.0], [-0.1, 5.8], [0.0, 5.6], [0.12, 5.7],
    [0.22, 5.6], [-0.46, 6.0], [-0.34, 6.6], [-0.24, 6.3], [-0.12, 6.9], [-0.02, 7.5], [0.3, 7.6], [0.4, 7.0],
    [-0.75, 3.0], [-0.7, 2.8], [-0.66, 3.1], [-0.62, 2.9], [-0.72, 3.3], [-0.6, 3.2], [-0.68, 2.6], [-0.58, 2.8],
  ],
  Sebastidae: [
    [-1.306, 5.75], [-1.015, 5.86], [-0.964, 5.86], [-0.93, 5.47], [-0.851, 5.47], [-0.742, 5.91], [-1.237, 4.73],
    [-1.203, 4.63], [-1.152, 4.5], [-1.118, 4.63], [-1.084, 4.5], [-1.043, 4.66], [-0.998, 4.53], [-0.947, 4.63],
    [-0.896, 4.89], [-0.851, 4.81], [-0.81, 4.66], [-1.323, 4.42], [-1.289, 4.19], [-1.255, 4.19], [-1.152, 4.27],
    [-1.032, 4.11], [-0.998, 4.03], [-0.81, 4.19], [-0.673, 4.73], [-0.588, 5.59], [-0.314, 5.52], [-1.067, 4.42],
    [-0.913, 4.42], [-1.22, 4.42], [-1.118, 4.34], [-0.964, 4.34], [-0.861, 4.53],
  ],
  Salmonidae: [
    [-0.69, 6.53], [-0.622, 6.22], [-0.639, 5.88], [-0.554, 5.91], [-0.434, 6.14], [-0.366, 6.06], [-0.332, 6.3],
    [-0.263, 6.45], [-0.212, 6.61], [-0.178, 6.53], [-0.126, 6.61], [-0.075, 6.84], [-0.058, 6.41], [-0.195, 7.39],
    [-0.383, 5.75], [-0.332, 5.75], [-0.229, 5.91], [-0.143, 6.06], [-0.092, 5.91], [-0.024, 6.06], [-0.212, 5.28],
    [-0.16, 5.13], [-0.075, 5.05], [-0.024, 4.81], [0.079, 4.89], [0.147, 4.94], [-0.041, 4.27], [-0.297, 5.2], [-0.417, 5.52],
  ],
  Lutjanidae: [
    [-0.708, 4.97], [-0.656, 5.28], [-0.622, 5.59], [-0.571, 5.75], [-0.537, 5.44], [-0.502, 5.13], [-0.468, 6.14],
    [-0.434, 5.67], [-0.725, 4.66], [-0.588, 4.81], [-0.639, 5.05], [-0.519, 5.83],
  ],
  Scorbridae: [
    [-0.571, 4.84], [-0.502, 4.73], [-0.451, 4.5], [-0.383, 4.81], [-0.332, 5.75], [-0.263, 5.59], [-0.212, 5.75],
    [-0.16, 5.28], [-0.109, 5.2], [0.028, 6.06], [0.028, 5.59], [0.028, 5.2], [0.011, 4.66], [-0.075, 4.19],
    [-0.615, 4.03], [-0.537, 3.88], [-0.571, 3.56], [-0.451, 3.88], [-0.4, 3.72], [-0.332, 3.75], [-0.246, 3.72],
    [-0.16, 3.8], [-0.229, 3.56], [-0.349, 3.28], [-0.434, 2.83], [0.506, 6.06], [0.575, 6.34], [0.599, 6.84],
  ],
};
const speciesWh: Record<string, Pt[]> = {
  Other: [
    [-1.0, 7.7], [-0.8, 8.1], [-0.5, 7.2], [-0.3, 7.9], [0.0, 7.4], [0.2, 8.2], [0.4, 7.0], [0.6, 7.6], [-0.9, 6.2],
    [-0.6, 6.6], [-0.2, 6.1], [0.1, 6.7], [0.5, 6.3], [0.8, 7.2], [-0.7, 5.8],
    [0.3, 9.5], [0.8, 9.0], [1.2, 9.3], [1.6, 8.8], [2.0, 9.1], [2.4, 8.6], [2.8, 8.9], [1.0, 8.4], [1.4, 8.5],
    [2.2, 8.3], [3.0, 8.4],
    [2.2, 8.0], [2.45, 8.05], [2.7, 7.95], [2.95, 8.0], [3.2, 7.95], [3.45, 8.05],
    [0.9, 7.3], [1.1, 6.7], [1.3, 7.5], [1.5, 6.9], [1.7, 7.2], [1.9, 6.5], [2.1, 7.0], [2.3, 7.4], [2.5, 6.8],
    [2.7, 7.1], [2.9, 6.6], [3.1, 7.2], [1.2, 6.2], [1.6, 6.4], [2.0, 6.1], [2.4, 6.3], [2.8, 6.0], [1.4, 5.7],
    [1.8, 5.9], [2.2, 5.5], [2.6, 5.6], [3.0, 5.4], [1.0, 5.9], [1.6, 7.6], [2.0, 7.7], [3.3, 6.8], [3.5, 7.3],
    [3.7, 6.9], [1.3, 6.5], [2.35, 6.65],
    [3.9, 7.5], [4.1, 6.9], [4.4, 7.2], [4.7, 6.7], [4.2, 6.3], [4.9, 6.1], [5.1, 5.6], [4.6, 5.5], [5.4, 5.2],
    [5.2, 6.4], [5.6, 4.9],
    [0.6, 4.9], [0.9, 4.4], [1.2, 4.7], [1.5, 4.2], [1.8, 4.5], [2.0, 3.9], [2.3, 4.3], [1.1, 3.8], [1.6, 3.5],
    [2.1, 3.3], [2.4, 2.9],
    [2.8, 3.6], [3.1, 3.2], [3.4, 2.7], [3.7, 3.3], [4.0, 2.9], [4.3, 3.5], [4.6, 2.6], [4.9, 3.1], [5.2, 2.8],
    [5.5, 3.3], [5.8, 2.5], [6.1, 2.9], [6.4, 2.3], [5.0, 2.2], [4.4, 1.9], [5.4, 1.6], [5.8, 1.5], [6.3, 1.8],
    [7.0, 2.1], [7.3, 1.4], [3.8, 2.0], [4.8, 1.1], [3.0, 0.9], [3.4, 1.5], [4.1, 4.1], [4.7, 3.9], [5.1, 4.4], [6.6, 2.6],
    [1.2, 6.9], [1.4, 6.6], [1.6, 7.0], [1.8, 6.7], [2.0, 6.4], [1.3, 6.3], [1.5, 6.8], [1.7, 6.4], [1.9, 6.9],
    [1.1, 6.5], [2.1, 6.7], [1.4, 7.1], [1.8, 6.2], [1.6, 6.2], [1.2, 6.1], [2.2, 6.1], [2.0, 6.9], [1.0, 6.8],
    [1.5, 6.5], [1.75, 6.55],
    [2.4, 6.6], [2.6, 6.3], [2.8, 6.7], [3.0, 6.2], [2.5, 5.8], [2.7, 5.9], [2.9, 5.7], [3.1, 5.9], [2.3, 5.9],
    [3.2, 6.5], [2.6, 7.0], [2.2, 7.3], [1.8, 7.4], [2.9, 7.2], [3.3, 6.0], [3.4, 5.6], [2.4, 5.4], [2.0, 5.6],
    [1.6, 5.6], [2.8, 5.3],
    [2.3, 8.05], [2.55, 8.1], [2.8, 8.05], [3.05, 8.1], [3.3, 8.05], [2.45, 7.95], [2.7, 8.0], [2.95, 7.95],
    [3.2, 8.0], [3.5, 7.95],
    [3.9, 2.4], [3.6, 2.3], [4.0, 3.7], [3.3, 3.9], [4.5, 4.2], [3.8, 4.6],
  ],
  Sebastidae: [
    [1.22, 5.52], [1.78, 4.73], [2.4, 4.19], [2.65, 6.06], [2.89, 5.75], [3.82, 5.75], [2.52, 4.89], [2.71, 4.66],
    [2.89, 4.5], [3.08, 4.58], [3.26, 4.34], [3.45, 4.66], [2.89, 4.11], [3.14, 4.19], [2.71, 4.27], [3.39, 4.27],
    [2.58, 5.05], [2.83, 4.89], [2.4, 4.66], [3.02, 4.81], [3.2, 5.05], [3.57, 4.42], [2.77, 5.75], [2.96, 5.59],
  ],
  Salmonidae: [
    [3.2, 7.39], [2.4, 6.92], [2.46, 6.45], [2.34, 5.98], [2.03, 5.44], [2.89, 6.53], [3.45, 6.56], [3.57, 6.38],
    [3.94, 6.22], [4.13, 6.45], [4.19, 6.06], [4.38, 5.75], [3.76, 5.44], [3.39, 5.59], [3.08, 5.75], [3.64, 4.89],
    [3.94, 4.34], [3.14, 6.06], [4.44, 5.44],
  ],
  Lutjanidae: [
    [3.57, 5.28], [3.76, 5.13], [4.01, 4.89], [4.13, 4.66], [3.88, 4.58], [3.57, 5.75], [3.7, 5.52], [4.19, 5.13],
    [3.45, 5.05], [4.01, 5.44],
  ],
  Scorbridae: [
    [2.28, 6.84], [2.28, 6.34], [2.4, 6.06], [3.51, 6.06], [3.76, 5.75], [3.26, 5.2], [4.25, 5.59], [4.38, 5.28],
    [4.56, 4.84], [4.93, 4.73], [5.0, 4.97], [4.93, 4.53], [5.24, 4.03], [5.8, 4.19], [3.39, 3.8], [3.57, 3.56],
    [3.76, 3.88], [4.13, 3.88], [4.25, 3.48], [4.35, 3.28], [3.94, 2.81], [3.02, 4.19], [3.64, 4.42], [4.32, 5.91],
  ],
};
const speciesMr: Record<string, Pt[]> = {
  Other: [
    [-0.3, -0.2], [-0.25, -0.05], [-0.2, 0.05], [-0.15, -0.15], [-0.1, 0.1], [-0.05, -0.05], [0.0, 0.15], [0.05, 0.0],
    [0.1, 0.2], [0.15, 0.05], [0.2, 0.25], [0.25, 0.1], [0.3, 0.28], [0.35, 0.15], [-0.28, -0.35], [-0.18, -0.3],
    [-0.08, -0.22], [0.02, -0.15], [0.12, -0.08], [0.22, -0.02], [0.32, 0.0], [-0.12, 0.22], [0.05, 0.32], [0.18, 0.38],
    [0.28, 0.42], [0.4, 0.35], [-0.35, -0.1], [-0.02, 0.05], [0.08, 0.12], [0.15, -0.2], [0.25, -0.12], [0.38, 0.05],
    [0.25, 0.5], [0.35, 0.55], [0.45, 0.48], [0.55, 0.52], [0.62, 0.4], [0.7, 0.45], [0.75, 0.55], [0.5, 0.3],
    [0.6, 0.2], [0.45, 0.15], [0.65, 0.05], [0.72, 0.25], [0.55, -0.05],
    [-0.65, -0.45], [-0.6, -0.3], [-0.55, -0.65], [-0.5, -0.4], [-0.45, -0.55], [-0.4, -0.25], [-0.38, -0.7],
    [-0.33, -0.5], [-0.25, -0.6], [-0.2, -0.45], [-0.15, -0.7], [-0.1, -0.55], [-0.05, -0.4], [0.05, -0.5],
    [0.1, -0.35], [-0.72, -0.6], [-0.58, -0.8], [-0.42, -0.9], [-0.3, -0.85], [-0.7, -0.25], [-0.5, -0.15],
    [-1.1, -1.55], [-1.05, -1.75], [-0.98, -1.65], [-0.92, -1.45], [-0.88, -1.85], [-0.82, -1.6], [-0.78, -1.3],
    [-0.74, -1.5], [-0.7, -1.75], [-0.66, -1.4], [-0.62, -1.48], [-0.6, -1.55], [-0.57, -1.45], [-0.55, -1.2],
    [-0.52, -1.6], [-0.48, -1.35], [-0.45, -1.05], [-0.4, -1.25], [-0.36, -1.5], [-0.32, -1.1], [-0.28, -1.3],
    [-0.22, -1.0], [-0.18, -1.15], [-0.75, -1.05], [-0.68, -1.1], [-0.95, -1.25], [-1.18, -1.85], [-0.8, -1.92],
    [-0.58, -1.8], [-0.4, -1.7], [-0.12, -0.95], [0.0, -0.8], [-0.85, -1.15],
    [0.15, -0.6], [0.25, -0.45], [0.3, -0.7], [0.4, -0.3], [0.5, -0.2], [0.2, -0.9], [0.45, -0.55],
    [0.0, 0.0], [0.05, 0.1], [0.1, 0.05], [0.15, 0.15], [0.2, 0.08], [0.25, 0.2], [0.3, 0.12], [0.35, 0.25],
    [0.4, 0.2], [0.0, 0.2], [0.08, 0.25], [0.18, 0.3], [0.28, 0.33], [-0.05, 0.08], [-0.1, -0.05], [-0.15, 0.05],
    [-0.2, -0.1], [0.12, -0.05], [0.22, 0.0], [0.32, 0.05], [0.05, -0.12], [-0.05, -0.15], [-0.18, -0.2],
    [0.15, 0.38], [0.25, 0.42], [0.38, 0.4], [0.45, 0.3],
    [-0.3, -0.3], [-0.35, -0.4], [-0.4, -0.45], [-0.45, -0.35], [-0.5, -0.5], [-0.55, -0.55], [-0.6, -0.6],
    [-0.3, -0.15], [-0.38, -0.22], [-0.25, -0.25], [-0.48, -0.28], [-0.42, -0.6], [-0.28, -0.48], [-0.2, -0.35],
    [-0.62, -0.72], [-0.52, -0.68],
    [-0.72, -1.45], [-0.68, -1.5], [-0.64, -1.42], [-0.6, -1.5], [-0.7, -1.55], [-0.66, -1.38], [-0.58, -1.45], [-0.62, -1.58],
  ],
  Sebastidae: [
    [-1.314, -1.218], [-1.246, -1.279], [-1.331, -1.441], [-1.297, -1.401], [-1.263, -1.421], [-1.144, -1.198],
    [-1.11, -1.178], [-1.076, -1.137], [-1.11, -1.239], [-1.059, -1.077], [-1.008, -1.036], [-0.957, -0.996],
    [-0.974, -1.097], [-0.906, -0.955], [-0.855, -0.915], [-0.82, -0.834], [-0.855, -0.744], [-0.923, -0.894],
    [-0.889, -1.016], [-1.025, -1.198], [-1.093, -1.117], [-0.991, -0.894], [-0.752, -0.631], [-0.65, -0.55],
    [-0.582, -0.55], [-0.667, -0.732], [-0.31, -0.279], [-1.025, -0.915], [-0.94, -1.036], [-1.059, -1.218],
  ],
  Salmonidae: [
    [-0.691, -0.497], [-0.616, -0.55], [-0.701, -0.631], [-0.412, -0.388], [-0.378, -0.307], [-0.344, -0.348],
    [-0.276, -0.368], [-0.208, 0.037], [-0.14, -0.003], [-0.105, -0.064], [-0.088, -0.165], [-0.122, -0.226],
    [-0.071, -0.267], [-0.173, -0.186], [-0.242, -0.267], [-0.191, -0.348], [-0.276, -0.226], [-0.037, -0.368],
    [0.065, -0.258], [0.15, -0.186], [-0.105, -0.469], [-0.208, -0.469], [-0.378, -0.489], [-0.48, -0.449],
    [-0.071, -0.105], [-0.003, -0.044],
  ],
  Lutjanidae: [
    [-0.548, -0.396], [-0.514, -0.469], [-0.48, -0.51], [-0.684, -0.692], [-0.718, -0.793], [-0.701, -0.834],
    [-0.633, -0.631], [-0.446, -0.408], [-0.582, -0.591], [-0.735, -0.753],
  ],
  Scorbridae: [
    [-0.804, -1.056], [-0.616, -0.955], [-0.548, -0.955], [-0.582, -1.056], [-0.429, -1.19], [-0.446, -0.834],
    [-0.378, -0.834], [-0.361, -0.955], [-0.327, -0.813], [-0.514, -0.672], [-0.48, -0.712], [-0.548, -0.591],
    [-0.242, -0.732], [-0.208, -0.692], [-0.173, -0.651], [-0.225, -0.51], [-0.344, -0.449], [-0.31, -0.388],
    [-0.208, -0.206], [-0.14, -0.287], [-0.003, -0.327], [0.031, -0.125], [0.031, -0.023], [0.49, 0.167],
    [0.558, 0.22], [0.592, 0.288], [-0.259, -0.55], [-0.157, -0.489],
  ],
};
const speciesWr: Record<string, Pt[]> = {
  Other: [
    [-0.95, 0.38], [-0.8, 0.5], [-0.6, 0.25], [-0.4, 0.45], [-0.2, 0.3], [0.0, 0.55], [0.2, 0.4], [0.4, 0.58],
    [-0.7, 0.05], [-0.3, 0.12], [0.1, 0.15], [0.6, 0.48], [0.8, 0.6], [1.2, 0.55], [1.5, 0.5], [0.9, 0.35],
    [0.5, 0.1], [0.75, 0.25], [0.95, 0.05], [1.15, 0.2], [1.35, 0.3], [1.55, 0.1], [1.75, 0.25], [1.95, 0.05],
    [2.15, 0.18], [2.35, 0.3], [2.55, 0.08], [2.75, 0.2], [0.85, -0.1], [1.1, -0.05], [1.3, -0.2], [1.5, -0.08],
    [1.7, -0.15], [1.9, -0.28], [2.1, -0.12], [2.3, -0.3], [2.5, -0.2], [2.7, -0.05], [2.9, -0.25], [3.1, -0.1],
    [1.4, 0.42], [1.8, 0.4], [2.0, 0.34], [2.6, 0.34], [3.0, 0.1], [1.2, -0.32], [1.6, -0.4], [2.0, -0.45],
    [2.4, -0.5], [2.8, -0.42], [3.2, -0.35], [0.7, -0.22],
    [3.4, -0.3], [3.6, -0.45], [3.8, -0.6], [4.0, -0.4], [4.2, -0.7], [4.4, -0.55], [4.6, -0.8], [4.8, -0.6],
    [5.0, -0.9], [5.2, -0.75], [3.3, -0.65], [3.5, -0.85], [3.9, -0.95], [4.1, -1.05], [3.2, -0.8], [2.9, -0.7],
    [2.6, -0.65], [3.7, -0.2], [4.3, -0.3], [4.8, -1.1], [5.4, -1.0], [5.6, -1.3],
    [2.6, -1.1], [2.8, -1.3], [3.0, -1.45], [3.2, -1.6], [3.4, -1.75], [3.6, -1.55], [3.8, -1.4], [4.0, -1.6],
    [4.2, -1.5], [4.4, -1.7], [4.6, -1.45], [4.8, -1.6], [5.0, -1.75], [5.2, -1.55], [5.4, -1.8], [3.5, -1.25],
    [4.0, -1.25], [4.5, -1.25], [3.0, -1.75], [3.7, -1.9], [4.3, -1.88], [5.7, -1.85], [2.4, -0.95], [2.2, -0.8],
    [5.9, -1.6], [3.9, -1.45],
    [1.0, 0.1], [1.2, 0.2], [1.4, 0.05], [1.6, 0.15], [1.8, 0.0], [2.0, 0.1], [2.2, -0.05], [2.4, 0.05],
    [2.6, -0.1], [1.1, -0.05], [1.3, 0.12], [1.5, -0.1], [1.7, 0.08], [1.9, -0.15], [2.1, -0.02], [2.3, -0.2],
    [2.5, -0.12], [2.7, -0.22], [1.25, 0.28], [1.65, 0.3], [2.05, 0.2], [0.8, 0.15], [0.6, 0.28], [0.9, -0.08],
    [2.8, -0.3], [3.0, -0.35], [2.2, -0.35], [1.8, -0.3], [1.4, -0.25], [2.6, -0.4], [3.1, -0.15], [0.5, 0.05],
    [0.7, 0.35], [1.5, 0.35], [1.9, 0.25], [2.3, 0.12],
    [3.3, -0.55], [3.5, -0.7], [3.7, -0.8], [3.9, -0.65], [3.4, -0.9], [3.6, -1.0],
    [3.7, -1.5], [3.8, -1.52], [3.9, -1.5], [4.3, -1.65], [4.6, -1.78],
  ],
  Sebastidae: [
    [1.252, -0.275], [1.831, -0.732], [2.569, -0.874], [2.692, -0.955], [2.508, -0.996], [2.754, -1.036],
    [2.631, -1.097], [2.815, -1.158], [2.877, -1.218], [3.0, -1.259], [3.185, -1.117], [3.246, -1.198],
    [3.369, -1.239], [3.492, -1.299], [2.754, -0.591], [2.692, -0.53], [2.754, -0.732], [3.369, -0.874],
    [3.246, -1.401], [3.431, -1.441], [3.492, -1.502], [3.862, -1.218], [3.0, -0.996], [2.385, -0.915], [2.938, -0.915],
  ],
  Salmonidae: [
    [2.077, -0.064], [2.446, -0.003], [2.446, -0.084], [2.323, -0.165], [2.015, -0.258], [2.385, -0.105],
    [2.754, -0.226], [3.0, -0.287], [2.938, -0.388], [3.185, 0.037], [3.554, -0.064], [3.308, -0.105],
    [4.231, -0.117], [3.677, -0.307], [3.862, -0.449], [3.985, -0.51], [4.108, -0.55], [4.354, -0.611],
    [3.554, -0.489], [3.246, -0.51], [4.231, -0.449], [2.569, -0.206], [3.185, -0.247],
  ],
  Lutjanidae: [
    [3.308, -0.165], [3.369, -0.388], [3.492, -0.51], [3.615, -0.57], [3.738, -0.631], [3.923, -0.692],
    [4.046, -0.753], [3.8, -0.793], [3.862, -0.915], [3.369, -0.631], [3.123, -0.57], [3.615, -0.712], [4.108, -0.854],
  ],
  Scorbridae: [
    [2.323, 0.288], [2.446, 0.179], [3.554, -0.023], [3.8, -0.117], [2.754, -0.206], [3.062, -0.267], [3.246, -0.267],
    [3.615, -0.267], [3.862, -0.267], [4.231, -0.356], [4.415, -0.441], [4.723, -0.408], [5.031, -0.416],
    [2.754, -0.489], [3.431, -0.611], [3.492, -0.692], [3.554, -0.753], [3.738, -0.834], [3.862, -0.773],
    [3.677, -0.854], [4.169, -0.915], [4.292, -0.955], [4.231, -1.056], [3.985, -1.198], [4.538, -0.68],
    [4.908, -0.692], [4.969, -0.712], [5.215, -0.955], [5.831, -1.056], [3.369, -0.186],
  ],
};

// ---------- layout ----------
const COLS = [
  { left: 75, width: 250 },
  { left: 371.7, width: 248.3 },
  { left: 759, width: 251.7 },
  { left: 1055, width: 250.7 },
];
const ROW_TOPS = [9.5, 246.8, 484.1, 721.4, 958.7];
const PH = 213.5;
const AXW = 45;
const MT = 4;
const MB = 24;
const MR = 24;
const XAH = 56;

type Mark = { v: number; line: boolean; label?: string };
type AxisSpec = { domain: [number, number]; marks: Mark[] };

function logMarks(ticks: number[], labels: Record<string, string>): Mark[] {
  return ticks.map((t) => ({ v: Math.log10(t), line: true, label: labels[String(t)] }));
}
const H_MARKS: Mark[] = [
  ...H_TICK_POS.map((v) => {
    const l = H_LABELS.find((h) => h[0] === v);
    return { v, line: true, label: l ? l[1] : undefined };
  }),
  ...H_LABELS.filter((h) => !H_TICK_POS.includes(h[0])).map((h) => ({ v: h[0], line: false, label: h[1] })),
].sort((a, b) => a.v - b.v);

const X_M: AxisSpec = { domain: [-1.784, 0.784], marks: logMarks(M_TICKS, M_LABELS) };
const X_W2: AxisSpec = { domain: [-1.6, 7.59], marks: logMarks(W_TICKS, W_LABELS) };
const X_W4: AxisSpec = { domain: [-1.62, 7.64], marks: logMarks(W_TICKS, W_LABELS) };
const Y_H: AxisSpec = { domain: [0, 10], marks: H_MARKS };
const Y_R: AxisSpec = { domain: [-2, 0.605], marks: logMarks(R_TICKS, R_LABELS) };
const X_AXES = [X_M, X_W2, X_M, X_W4];
const Y_AXES = [Y_H, Y_H, Y_R, Y_R];

// outline of an ellipse mark in axis units (the curve the original draws)
function outline(e: Ell) {
  const [cx, cy, ax, ay, rho] = e;
  const s = Math.sqrt(1 - rho * rho);
  const pts: { x: number; y: number }[] = [];
  for (let i = 0; i <= 80; i++) {
    const t = (i / 80) * Math.PI * 2;
    pts.push({ x: cx + ax * Math.cos(t), y: cy + ay * (rho * Math.cos(t) + s * Math.sin(t)) });
  }
  return pts;
}
const toRows = (p: Pt[]) => p.map(([x, y]) => ({ x, y }));

function findMark(marks: Mark[], v: number) {
  return marks.find((m) => Math.abs(m.v - v) < 1e-6);
}

function YTick(props: any) {
  const { x, y, payload, marks } = props;
  const m = findMark(marks, payload.value);
  if (!m) return <g />;
  return (
    <g>
      {m.line && <line x1={x - 7} x2={x} y1={y} y2={y} stroke="#000" strokeWidth={1.2} />}
      {m.label && (
        <text x={x - 9} y={y} transform={`rotate(-90 ${x - 9} ${y})`} textAnchor="middle" fontSize={18} fill="#111" fontFamily={FONT}>
          {m.label}
        </text>
      )}
    </g>
  );
}

function XTick(props: any) {
  const { x, y, payload, marks } = props;
  const m = findMark(marks, payload.value);
  if (!m) return <g />;
  return (
    <g>
      {m.line && <line x1={x} x2={x} y1={y} y2={y + 7} stroke="#000" strokeWidth={1.2} />}
      {m.label && (
        <text x={x} y={y + 25} textAnchor="middle" fontSize={18} fill="#111" fontFamily={FONT}>
          {m.label}
        </text>
      )}
    </g>
  );
}

type LineSpec = { e: Ell; stroke: string; width: number };
type DotSpec = { pts: Pt[]; family: string };

function greyDot(p: any) {
  return <circle cx={p.cx} cy={p.cy} r={3.2} fill="rgba(0,0,0,0.2)" stroke="rgba(0,0,0,0.33)" strokeWidth={1} />;
}
function colourDot(color: string) {
  return (p: any) => <circle cx={p.cx} cy={p.cy} r={3.4} fill={color} />;
}

function Panel({ row, col, lines, dots }: { row: number; col: number; lines: LineSpec[]; dots: DotSpec[] }) {
  const c = COLS[col];
  const xa = X_AXES[col];
  const ya = Y_AXES[col];
  const bottom = row === 4;
  return (
    <div style={{ position: "absolute", left: c.left - AXW, top: ROW_TOPS[row] - MT }}>
      <ComposedChart
        width={AXW + c.width + MR}
        height={MT + PH + (bottom ? XAH : MB)}
        margin={{ top: MT, right: MR, bottom: bottom ? 0 : MB, left: 0 }}
      >
        <XAxis
          type="number"
          dataKey="x"
          domain={xa.domain}
          allowDataOverflow
          ticks={xa.marks.map((m) => m.v)}
          interval={0}
          tickSize={0}
          tickMargin={0}
          axisLine={false}
          tickLine={false}
          tick={(p: any) => <XTick {...p} marks={xa.marks} />}
          height={XAH}
          hide={!bottom}
        />
        <YAxis
          type="number"
          dataKey="y"
          domain={ya.domain}
          allowDataOverflow
          ticks={ya.marks.map((m) => m.v)}
          interval={0}
          tickSize={0}
          tickMargin={0}
          axisLine={false}
          tickLine={false}
          tick={(p: any) => <YTick {...p} marks={ya.marks} />}
          width={AXW}
        />
        {lines.map((l, i) => (
          <Line
            key={`l${i}`}
            data={outline(l.e)}
            dataKey="y"
            type="linear"
            stroke={l.stroke}
            strokeWidth={l.width}
            strokeLinejoin="round"
            dot={false}
            activeDot={false}
            isAnimationActive={false}
          />
        ))}
        {dots.map((d, i) => (
          <Scatter
            key={`d${i}`}
            data={toRows(d.pts)}
            shape={d.family === "Other" ? greyDot : colourDot(FAMILY_COLORS[d.family])}
            isAnimationActive={false}
          />
        ))}
        <ReferenceArea
          x1={xa.domain[0]}
          x2={xa.domain[1]}
          y1={ya.domain[0]}
          y2={ya.domain[1]}
          fill="none"
          fillOpacity={0}
          stroke="#000"
          strokeWidth={1.3}
          ifOverflow="visible"
        />
      </ComposedChart>
    </div>
  );
}

const CLASS = [classMh, classWh, classMr, classWr];
const ORDER = [orderMh, orderWh, orderMr, orderWr];
const FAMILY_ALL = [familyMh, familyWh, familyMr, familyWr];
const HIGHLIGHT = [highlightMh, highlightWh, highlightMr, highlightWr];
const GENUS = [genusMh, genusWh, genusMr, genusWr];
const SPECIES = [speciesMh, speciesWh, speciesMr, speciesWr];

function panelContent(row: number, col: number): { lines: LineSpec[]; dots: DotSpec[] } {
  if (row === 0) return { lines: CLASS[col].map((e) => ({ e, stroke: "#000", width: 2.6 })), dots: [] };
  if (row === 1) return { lines: ORDER[col].map((e) => ({ e, stroke: "#000", width: 1.4 })), dots: [] };
  if (row === 2) {
    const grey = FAMILY_ALL[col].map((e) => ({ e, stroke: "rgba(0,0,0,0.2)", width: 0.8 }));
    const hi = FAMILIES.map((f) => ({ e: HIGHLIGHT[col][f], stroke: FAMILY_COLORS[f], width: 3 }));
    return { lines: [...grey, ...hi], dots: [] };
  }
  const set = row === 3 ? GENUS[col] : SPECIES[col];
  return { lines: [], dots: ["Other", ...FAMILIES].map((f) => ({ pts: set[f], family: f })) };
}

const LEGENDS: Record<string, [string, string][]> = {
  genusLeft: [["#ff0000", "Sebastidae"], ["#00ff00", "Salmonidae"]],
  genusRight: [["#0000ff", "Scorbridae"], ["#ffff00", "Lutjanidae"]],
  species: [["#000000", "Other"]],
};

function Legend({ col, row }: { col: number; row: number }) {
  const items = row === 3 ? (col % 2 === 0 ? LEGENDS.genusLeft : LEGENDS.genusRight) : LEGENDS.species;
  const x0 = COLS[col].left + 16.5;
  const y0 = ROW_TOPS[row] + 17;
  return (
    <g>
      {items.map(([color, name], i) => (
        <g key={name}>
          <rect x={x0} y={y0 + i * 22} width={13} height={13} fill={color} stroke="#000" strokeWidth={1} />
          <text x={x0 + 31.5} y={y0 + i * 22 + 12.5} fontSize={18.5} fontFamily={FONT} fill="#111">
            {name}
          </text>
        </g>
      ))}
    </g>
  );
}

function Rotated({ x, y, size, children }: { x: number; y: number; size: number; children: string }) {
  return (
    <text x={x} y={y} transform={`rotate(-90 ${x} ${y})`} textAnchor="middle" fontSize={size} fontFamily={FONT} fill="#111">
      {children}
    </text>
  );
}

export default function App() {
  const panels = [];
  for (let r = 0; r < 5; r++) {
    for (let c = 0; c < 4; c++) {
      const content = panelContent(r, c);
      panels.push(<Panel key={`${r}-${c}`} row={r} col={c} lines={content.lines} dots={content.dots} />);
    }
  }
  return (
    <div style={{ position: "absolute", left: 0, top: 0, width: 1350, height: 1239, background: "#fff", fontFamily: FONT }}>
      {panels}
      <svg width={1350} height={1239} style={{ position: "absolute", left: 0, top: 0, pointerEvents: "none" }}>
        <text x={12} y={30} fontSize={20} fontWeight="bold" fontFamily={FONT}>(a)</text>
        <text x={701} y={30} fontSize={20} fontWeight="bold" fontFamily={FONT}>(b)</text>
        <Rotated x={37} y={595} size={28}>Steepness (h)</Rotated>
        <Rotated x={714} y={600} size={25}>Intrinsic growth rate (r)</Rotated>
        {ROW_NAMES.map((n, r) => (
          <g key={n}>
            <Rotated x={648} y={ROW_TOPS[r] + PH / 2} size={27}>{n}</Rotated>
            <Rotated x={1334} y={ROW_TOPS[r] + PH / 2} size={27}>{n}</Rotated>
          </g>
        ))}
        <text x={200} y={1230} textAnchor="middle" fontSize={28} fontFamily={FONT} fill="#111">Natural mortality</text>
        <text x={496} y={1230} textAnchor="middle" fontSize={28} fontFamily={FONT} fill="#111">Asymptotic mass</text>
        <text x={885} y={1230} textAnchor="middle" fontSize={28} fontFamily={FONT} fill="#111">Natural mortality</text>
        <text x={1180} y={1230} textAnchor="middle" fontSize={28} fontFamily={FONT} fill="#111">Asymptotic mass</text>
        {[0, 1, 2, 3].map((c) => <Legend key={`g${c}`} col={c} row={3} />)}
        {[0, 2].map((c) => <Legend key={`s${c}`} col={c} row={4} />)}
      </svg>
    </div>
  );
}
